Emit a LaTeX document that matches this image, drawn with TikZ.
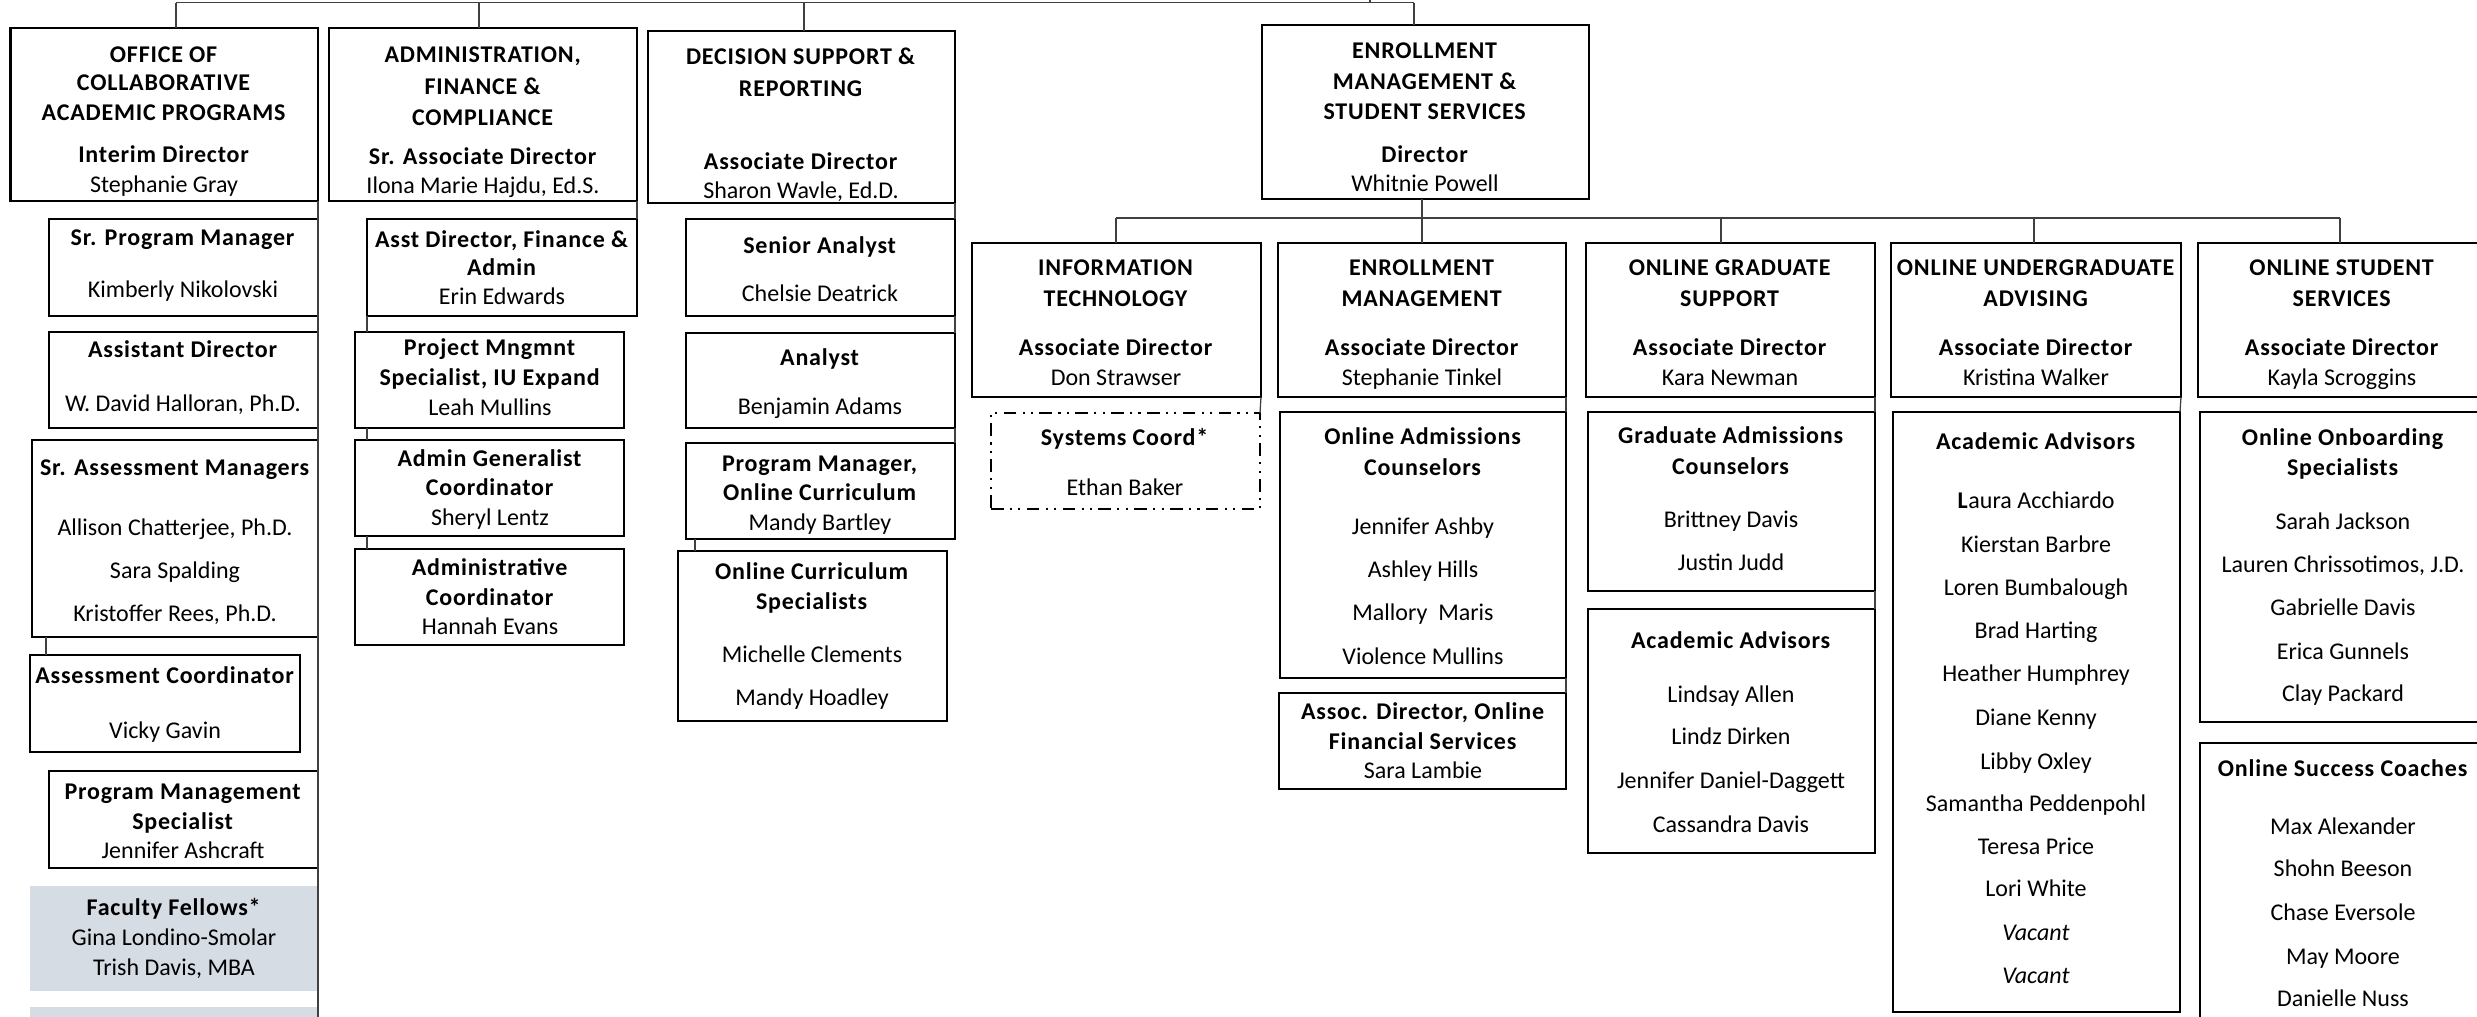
\documentclass[tikz,border=0pt]{standalone}
\usepackage{fontspec}
\setmainfont{Carlito}[BoldFeatures={LetterSpace=3.3}]
\definecolor{fellow}{HTML}{D6DCE4}
\definecolor{lnk}{HTML}{404040}
\tikzset{
  obox/.style={draw=black,line width=1.1pt,outer sep=0pt,inner sep=0pt,rectangle},
  fbox/.style={draw=none,fill=fellow},
  dbox/.style={line width=0.8pt,dash pattern=on 6pt off 3pt on 1pt off 3pt on 1pt off 3pt},
  tl/.style={inner sep=0pt,outer sep=0pt,anchor=base,font=\fontsize{11.4}{13.5}\selectfont},
  conn/.style={draw=lnk,line width=0.6pt}
}
\newcommand\obox[6][]{\node[obox,#1,minimum width={(#5-#3)*0.4748pt},minimum height={(#6-#4)*0.4748pt}] (#2) at ({(#3+#5)/2},{(#4+#6)/2}) {};}
\newcommand\btext[3]{\foreach \yy/\txt in {#3}{\node[tl] (#1-\yy) at (#2,\yy+7) {\txt};}}
\begin{document}
\begin{tikzpicture}[x=0.4748pt,y=-0.4748pt]
\useasboundingbox (0,0) rectangle (2477,1017);
% ---------- Office of Collaborative Academic Programs
\obox{oca}{10.5}{28}{318}{201}
\btext{oca}{164}{55/\textbf{OFFICE OF},83/\textbf{COLLABORATIVE},113/\textbf{ACADEMIC PROGRAMS},155/\textbf{Interim Director},185/Stephanie Gray}
\obox{spm}{49}{219}{318}{316}
\btext{spm}{183}{238/\textbf{Sr. Program Manager},290/Kimberly Nikolovski}
\obox{ad}{49}{332}{318}{428}
\btext{ad}{183}{350/\textbf{Assistant Director},404/{W. David Halloran, Ph.D.}}
\obox{sam}{32}{440}{318}{637}
\btext{sam}{175}{468/\textbf{Sr. Assessment Managers},528/{Allison Chatterjee, Ph.D.},571/Sara Spalding,614/{Kristoffer Rees, Ph.D.}}
\obox{ac}{30}{655}{300}{752}
\btext{ac}{165}{676/\textbf{Assessment Coordinator},731/Vicky Gavin}
\obox{pms}{49}{771}{318}{868}
\btext{pms}{183}{792/\textbf{Program Management},822/\textbf{Specialist},851/Jennifer Ashcraft}
\obox[fbox]{ff}{29.5}{886}{318.6}{991}
\btext{ff}{174}{908/\textbf{Faculty Fellows*},938/Gina Londino-Smolar,968/{Trish Davis, MBA}}
\obox[fbox]{ff2}{29.5}{1007}{318}{1040}
\coordinate (ocaend) at (318,1017);
\draw[conn] (oca.south east) -- (ocaend);
\coordinate (c46) at (46,637);
\draw[conn] (c46) -- (c46 |- ac.north);
% ---------- Administration, Finance & Compliance
\obox{afc}{329}{28}{637}{201}
\btext{afc}{483}{55/\textbf{ADMINISTRATION,},87/\textbf{FINANCE \&},118/\textbf{COMPLIANCE},157/\textbf{Sr. Associate Director},186/{Ilona Marie Hajdu, Ed.S.}}
\obox{adf}{367}{219}{637}{316}
\btext{adf}{502}{240/{\textbf{Asst Director, Finance \&}},268/\textbf{Admin},297/Erin Edwards}
\obox{pmg}{355}{332}{624}{428}
\btext{pmg}{490}{348/\textbf{Project Mngmnt},378/{\textbf{Specialist, IU Expand}},408/Leah Mullins}
\obox{agc}{355}{440}{624}{536}
\btext{agc}{490}{459/\textbf{Admin Generalist},488/\textbf{Coordinator},518/Sheryl Lentz}
\obox{adc}{355}{549}{624}{645}
\btext{adc}{490}{568/\textbf{Administrative},598/\textbf{Coordinator},627/Hannah Evans}
\draw[conn] (afc.south east) -- (adf.north east);
\coordinate (c367) at (367,316);
\draw[conn] (c367) -- (c367 |- pmg.north);
\draw[conn] (c367 |- pmg.south) -- (c367 |- agc.north);
\draw[conn] (c367 |- agc.south) -- (c367 |- adc.north);
% ---------- Decision Support & Reporting
\obox{dsr}{648}{31}{955}{203}
\btext{dsr}{801}{57/\textbf{DECISION SUPPORT \&},89/\textbf{REPORTING},162/\textbf{Associate Director},191/{Sharon Wavle, Ed.D.}}
\obox{sa}{686}{219}{955}{316}
\btext{sa}{820}{246/\textbf{Senior Analyst},294/Chelsie Deatrick}
\obox{an}{686}{333}{955}{428}
\btext{an}{820}{358/\textbf{Analyst},407/Benjamin Adams}
\obox{pmoc}{686}{443}{955}{539}
\btext{pmoc}{820}{464/{\textbf{Program Manager,}},493/\textbf{Online Curriculum},523/Mandy Bartley}
\obox{ocs}{678}{551}{947}{721}
\btext{ocs}{812}{572/\textbf{Online Curriculum},602/\textbf{Specialists},655/Michelle Clements,698/Mandy Hoadley}
\draw[conn] (dsr.south east) -- (sa.north east);
\draw[conn] (sa.south east) -- (an.north east);
\draw[conn] (an.south east) -- (pmoc.north east);
\coordinate (c695) at (695,539);
\draw[conn] (c695) -- (c695 |- ocs.north);
% ---------- Enrollment Management & Student Services
\obox{emss}{1262}{25}{1589}{199}
\btext{emss}{1425}{52/\textbf{ENROLLMENT},82/\textbf{MANAGEMENT \&},112/\textbf{STUDENT SERVICES},155/\textbf{Director},184/Whitnie Powell}
\obox{it}{972}{243}{1261}{397}
\btext{it}{1116}{268/\textbf{INFORMATION},299/\textbf{TECHNOLOGY},348/\textbf{Associate Director},378/Don Strawser}
\obox[dbox]{sys}{991}{413}{1260}{509}
\btext{sys}{1125}{438/\textbf{Systems Coord*},488/Ethan Baker}
\draw[conn] (it.south east) -- (sys.north east);
\obox{em}{1278}{243}{1566}{397}
\btext{em}{1422}{268/\textbf{ENROLLMENT},299/\textbf{MANAGEMENT},348/\textbf{Associate Director},378/Stephanie Tinkel}
\obox{oac}{1280}{412}{1566}{678}
\btext{oac}{1423}{437/\textbf{Online Admissions},468/\textbf{Counselors},527/Jennifer Ashby,570/Ashley Hills,613/Mallory\ \ Maris,657/Violence Mullins}
\obox{aofs}{1279}{693}{1566}{789}
\btext{aofs}{1423}{712/{\textbf{Assoc. Director, Online}},742/\textbf{Financial Services},771/Sara Lambie}
\draw[conn] (em.south east) -- (oac.north east);
\draw[conn] (oac.south east) -- (aofs.north east);
\obox{ogs}{1586}{243}{1875}{397}
\btext{ogs}{1730}{268/\textbf{ONLINE GRADUATE},299/\textbf{SUPPORT},348/\textbf{Associate Director},378/Kara Newman}
\obox{gac}{1588}{412}{1875}{591}
\btext{gac}{1731}{436/\textbf{Graduate Admissions},467/\textbf{Counselors},520/Brittney Davis,563/Justin Judd}
\obox{gaa}{1588}{609}{1875}{853}
\btext{gaa}{1731}{641/\textbf{Academic Advisors},695/Lindsay Allen,737/Lindz Dirken,781/Jennifer Daniel-Daggett,825/Cassandra Davis}
\draw[conn] (ogs.south east) -- (gac.north east);
\draw[conn] (gac.south east) -- (gaa.north east);
\obox{oua}{1891}{243}{2181}{397}
\btext{oua}{2036}{268/\textbf{ONLINE UNDERGRADUATE},299/\textbf{ADVISING},348/\textbf{Associate Director},378/Kristina Walker}
\obox{uaa}{1893}{412}{2180}{1012}
\btext{uaa}{2036}{442/\textbf{Academic Advisors},501/{\textbf{L}aura Acchiardo},545/Kierstan Barbre,588/Loren Bumbalough,631/Brad Harting,674/Heather Humphrey,718/Diane Kenny,762/Libby Oxley,804/Samantha Peddenpohl,847/Teresa Price,889/Lori White,933/\textit{Vacant},976/\textit{Vacant}}
\draw[conn] (oua.south east) -- (uaa.north east);
\obox{oss}{2198}{243}{2486}{397}
\btext{oss}{2342}{268/\textbf{ONLINE STUDENT},299/\textbf{SERVICES},348/\textbf{Associate Director},378/Kayla Scroggins}
\obox{oos}{2200}{412}{2486}{722}
\btext{oos}{2343}{438/\textbf{Online Onboarding},468/\textbf{Specialists},522/Sarah Jackson,565/{Lauren Chrissotimos, J.D.},608/Gabrielle Davis,652/Erica Gunnels,694/Clay Packard}
\obox{osc}{2200}{743}{2486}{1045}
\btext{osc}{2343}{769/\textbf{Online Success Coaches},827/Max Alexander,869/Shohn Beeson,913/Chase Eversole,957/May Moore,999/Danielle Nuss}
% ---------- connectors from EMSS
\draw[conn] (emss.south -| em.north) -- (em.north);
\coordinate (bus1) at (1116,218);
\coordinate (bus3) at (1721,218);
\coordinate (bus4) at (2034,218);
\coordinate (bus5) at (2340,218);
\draw[conn] (bus1) -- (bus5);
\draw[conn] (bus1) -- (bus1 |- it.north);
\draw[conn] (bus3) -- (bus3 |- ogs.north);
\draw[conn] (bus4) -- (bus4 |- oua.north);
\draw[conn] (bus5) -- (bus5 |- oss.north);
% ---------- top level
\coordinate (root) at (1370,0);
\coordinate (j1) at (176,2.7);
\coordinate (j2) at (479,2.7);
\coordinate (j3) at (804,2.7);
\coordinate (j4) at (1414,2.7);
\draw[conn] (j1) -- (j4);
\draw[conn] (root) -- (root |- j4);
\draw[conn] (j1) -- (j1 |- oca.north);
\draw[conn] (j2) -- (j2 |- afc.north);
\draw[conn] (j3) -- (j3 |- dsr.north);
\draw[conn] (j4) -- (j4 |- emss.north);
\end{tikzpicture}
\end{document}
